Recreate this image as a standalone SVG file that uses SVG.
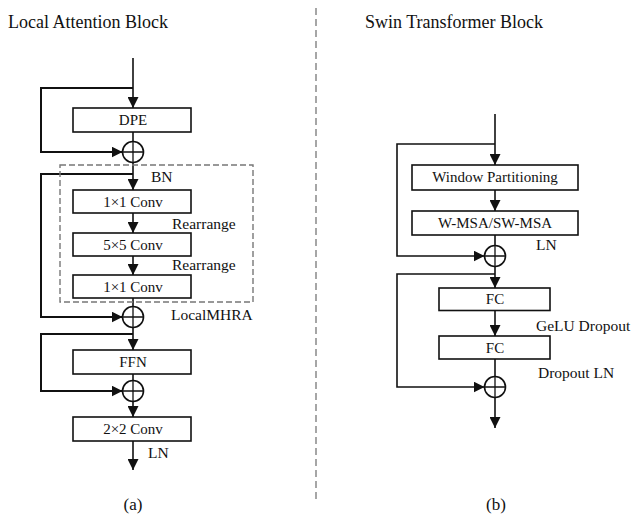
<svg xmlns="http://www.w3.org/2000/svg" width="632" height="515" viewBox="0 0 632 515">
<style>
.t{font-family:"Liberation Serif","Times New Roman",serif;fill:#111}
.title{font-size:18px}
.lbl{font-size:15px;text-anchor:middle}
.ann{font-size:15.5px}
.box{fill:#fff;stroke:#111;stroke-width:1.6}
.ln{fill:none;stroke:#111;stroke-width:1.6}
.loop{fill:none;stroke:#111;stroke-width:2}
.sum circle{fill:#fff;stroke:#111;stroke-width:1.6}
.sum path{stroke:#111;stroke-width:1.3}
</style>
<defs>
<marker id="ah" markerUnits="userSpaceOnUse" markerWidth="11" markerHeight="11" viewBox="0 0 10 10" refX="10" refY="5" orient="auto">
<path d="M0,0 L10,5 L0,10 z" fill="#111"/>
</marker>
</defs>
<rect width="632" height="515" fill="#fff"/>
<line x1="316" y1="8" x2="316" y2="500" stroke="#777" stroke-width="1.3" stroke-dasharray="7,4"/>
<text class="t title" x="8" y="28">Local Attention Block</text>
<text class="t title" x="365" y="28">Swin Transformer Block</text>

<g id="connectors">
<path class="ln" d="M133,58 V108" marker-end="url(#ah)"/>
<path class="loop" d="M133,88 H41 V152 H122.5" marker-end="url(#ah)"/>
<path class="ln" d="M133,132 V141.5"/>
<path class="ln" d="M133,162.5 V190" marker-end="url(#ah)"/>
<path class="loop" d="M133,174 H41 V317 H122.5" marker-end="url(#ah)"/>
<path class="ln" d="M133,213 V233" marker-end="url(#ah)"/>
<path class="ln" d="M133,256 V275" marker-end="url(#ah)"/>
<path class="ln" d="M133,298 V306.5"/>
<path class="ln" d="M133,327.5 V350" marker-end="url(#ah)"/>
<path class="loop" d="M133,334 H41 V391 H122.5" marker-end="url(#ah)"/>
<path class="ln" d="M133,374 V380.5"/>
<path class="ln" d="M133,401.5 V417" marker-end="url(#ah)"/>
<path class="ln" d="M133,441 V470" marker-end="url(#ah)"/>

<path class="ln" d="M495,114 V165" marker-end="url(#ah)"/>
<path class="ln" d="M495,144 H397 V256 H484.5" marker-end="url(#ah)"/>
<path class="ln" d="M495,190 V211" marker-end="url(#ah)"/>
<path class="ln" d="M495,235 V245.5"/>
<path class="ln" d="M495,266.5 V288" marker-end="url(#ah)"/>
<path class="ln" d="M495,274 H397 V387 H484.5" marker-end="url(#ah)"/>
<path class="ln" d="M495,310.5 V336" marker-end="url(#ah)"/>
<path class="ln" d="M495,359 V376.5"/>
<path class="ln" d="M495,397.5 V428" marker-end="url(#ah)"/>
</g>

<g id="localmhra">
<rect x="60" y="165" width="193" height="137" fill="none" stroke="#777" stroke-width="1.4" stroke-dasharray="6,3"/>
<text class="t ann" x="171" y="320">LocalMHRA</text>
</g>

<g id="dpe"><rect class="box" x="73" y="108" width="118" height="24"/><text class="t lbl" x="133" y="125">DPE</text></g>
<g id="sum1" class="sum"><circle cx="133" cy="152" r="10.5"/><path d="M122.5,152 H143.5 M133,141.5 V162.5"/></g>
<text class="t ann" x="151" y="182">BN</text>
<g id="conv1a"><rect class="box" x="73" y="190" width="118" height="23"/><text class="t lbl" x="133" y="207">1×1 Conv</text></g>
<text class="t ann" x="172" y="229">Rearrange</text>
<g id="conv5"><rect class="box" x="73" y="233" width="118" height="23"/><text class="t lbl" x="133" y="250">5×5 Conv</text></g>
<text class="t ann" x="172" y="270">Rearrange</text>
<g id="conv1b"><rect class="box" x="73" y="275" width="118" height="23"/><text class="t lbl" x="133" y="292">1×1 Conv</text></g>
<g id="sum2" class="sum"><circle cx="133" cy="317" r="10.5"/><path d="M122.5,317 H143.5 M133,306.5 V327.5"/></g>
<g id="ffn"><rect class="box" x="73" y="350" width="118" height="24"/><text class="t lbl" x="133" y="367">FFN</text></g>
<g id="sum3" class="sum"><circle cx="133" cy="391" r="10.5"/><path d="M122.5,391 H143.5 M133,380.5 V401.5"/></g>
<g id="conv2"><rect class="box" x="73" y="417" width="118" height="24"/><text class="t lbl" x="133" y="434">2×2 Conv</text></g>
<text class="t ann" x="148" y="458">LN</text>
<text class="t lbl" x="133" y="510" style="font-size:17px">(a)</text>

<g id="winpart"><rect class="box" x="412" y="165" width="166" height="25"/><text class="t lbl" x="495" y="182">Window Partitioning</text></g>
<g id="wmsa"><rect class="box" x="412" y="211" width="166" height="24"/><text class="t lbl" x="495" y="228">W-MSA/SW-MSA</text></g>
<text class="t ann" x="536" y="250">LN</text>
<g id="sum4" class="sum"><circle cx="495" cy="256" r="10.5"/><path d="M484.5,256 H505.5 M495,245.5 V266.5"/></g>
<g id="fc1"><rect class="box" x="439" y="288" width="111" height="22.5"/><text class="t lbl" x="495" y="304">FC</text></g>
<text class="t ann" x="536" y="331">GeLU Dropout</text>
<g id="fc2"><rect class="box" x="439" y="336" width="111" height="23"/><text class="t lbl" x="495" y="353">FC</text></g>
<text class="t ann" x="538" y="378">Dropout LN</text>
<g id="sum5" class="sum"><circle cx="495" cy="387" r="10.5"/><path d="M484.5,387 H505.5 M495,376.5 V397.5"/></g>
<text class="t lbl" x="496" y="510" style="font-size:17px">(b)</text>
</svg>
